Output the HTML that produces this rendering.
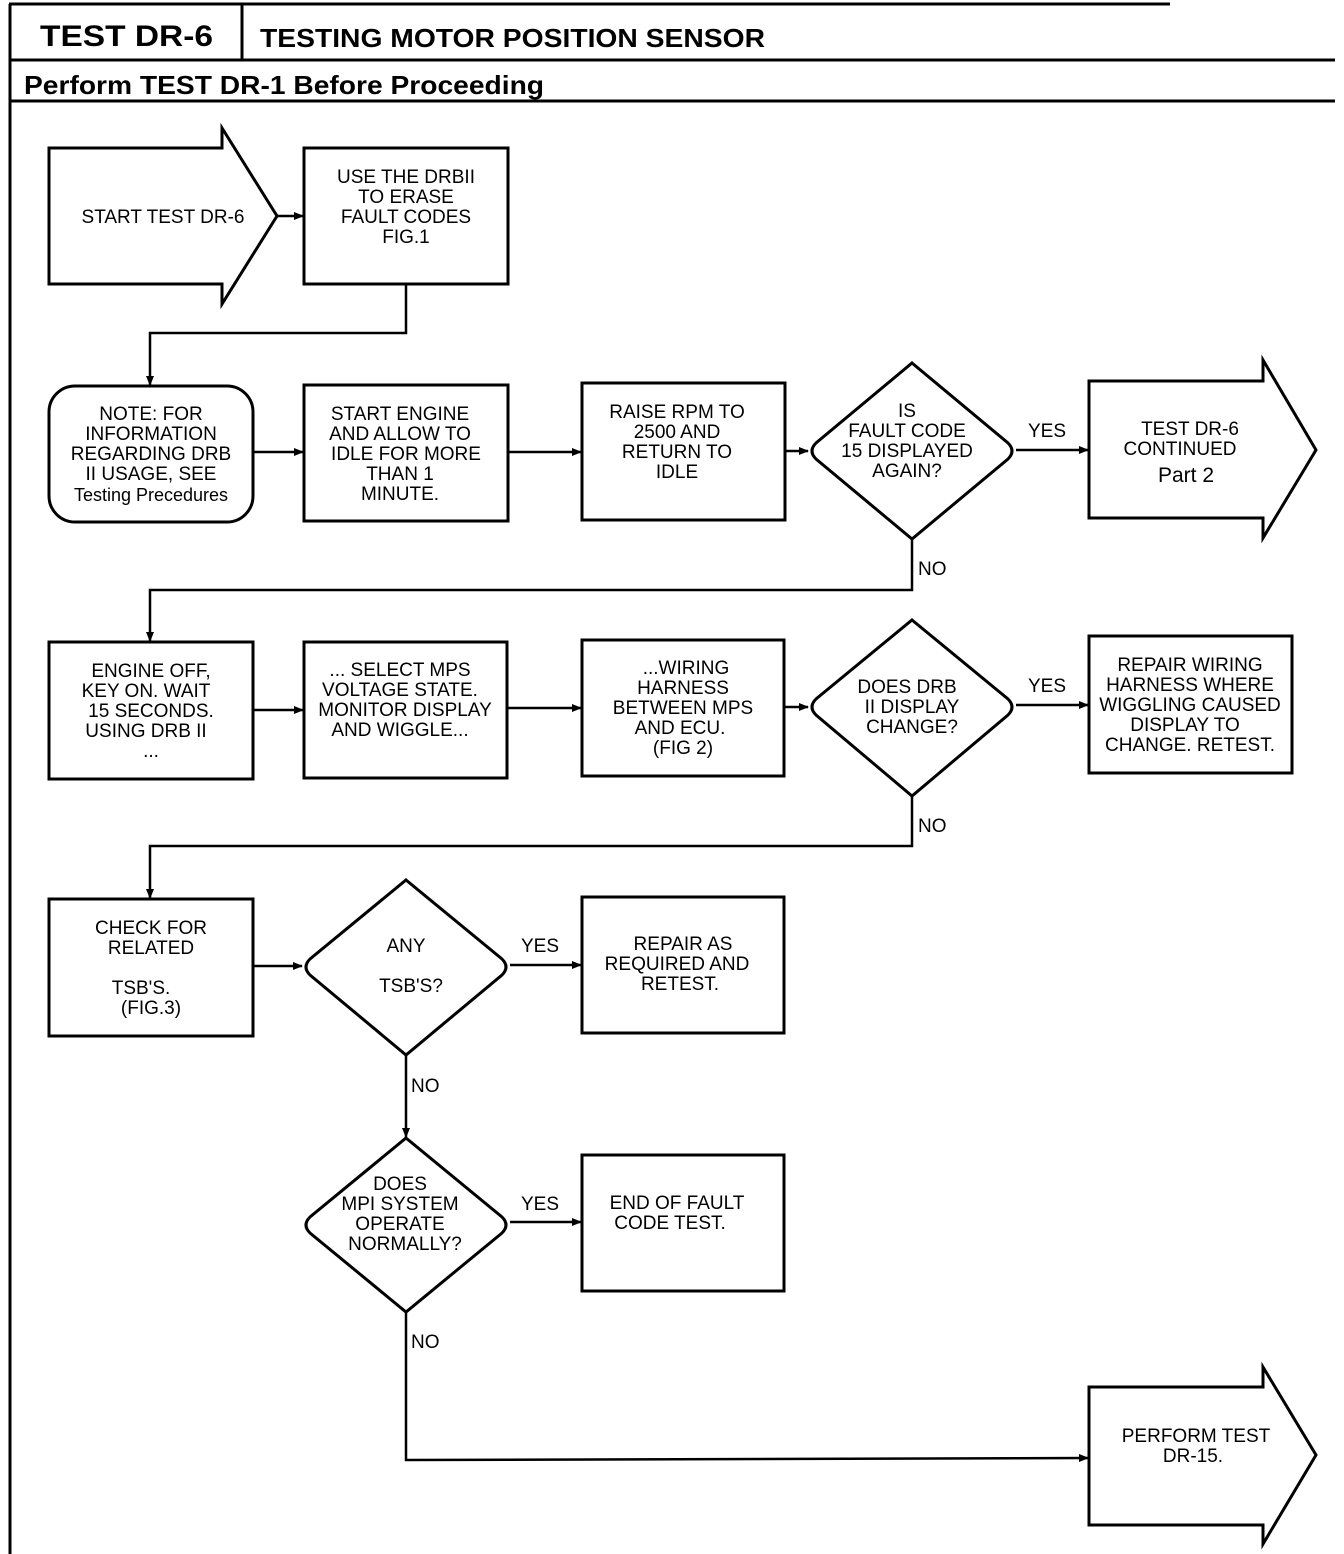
<!DOCTYPE html>
<html><head><meta charset="utf-8"><style>
html,body{margin:0;padding:0;background:#fff;}
svg{display:block;}
.t{font-family:"Liberation Sans",sans-serif;font-size:19px;fill:#000;text-anchor:middle;}
.h{font-family:"Liberation Sans",sans-serif;font-weight:bold;fill:#000;}
.l{font-family:"Liberation Sans",sans-serif;font-size:19px;fill:#000;}
</style></head><body>
<svg width="1344" height="1554" viewBox="0 0 1344 1554" xmlns="http://www.w3.org/2000/svg">
<defs><marker id="a" markerWidth="10" markerHeight="8" refX="9" refY="4" orient="auto" markerUnits="userSpaceOnUse"><path d="M0,0 L10,4 L0,8 Z" fill="#000"/></marker></defs>
<g stroke="#000" stroke-width="3" fill="none">
<line x1="9" y1="4" x2="1170" y2="4"/>
<line x1="10" y1="4" x2="10" y2="1554"/>
<line x1="242" y1="4" x2="242" y2="60"/>
<line x1="10" y1="60" x2="1335" y2="60"/>
<line x1="10" y1="101" x2="1335" y2="101"/>
<path d="M49,148 L222,148 L222,128 L277,216 L222,304 L222,284 L49,284 Z"/>
<rect x="304" y="148" width="204" height="136"/>
<rect x="49" y="386" width="204" height="136" rx="26"/>
<rect x="304" y="385" width="204" height="136"/>
<rect x="582" y="383" width="203" height="137"/>
<path d="M912,363 L1008,443 Q1016,451 1008,459 L912,539 L816,459 Q808,451 816,443 Z"/>
<path d="M1089,381 L1263,381 L1263,360 L1316,450 L1263,538 L1263,518 L1089,518 Z"/>
<rect x="49" y="642" width="204" height="137"/>
<rect x="304" y="642" width="203" height="136"/>
<rect x="582" y="640" width="202" height="136"/>
<path d="M912,620 L1008,699 Q1016,707 1008,715 L912,796 L816,715 Q808,707 816,699 Z"/>
<rect x="1089" y="636" width="203" height="137"/>
<rect x="49" y="899" width="204" height="137"/>
<path d="M406,880 L502,959 Q510,967 502,975 L406,1055 L310,975 Q302,967 310,959 Z"/>
<rect x="582" y="897" width="202" height="136"/>
<path d="M406,1138 L502,1217 Q510,1225 502,1233 L406,1312 L310,1233 Q302,1225 310,1217 Z"/>
<rect x="582" y="1155" width="202" height="136"/>
<path d="M1089,1387 L1263,1387 L1263,1367 L1316,1455 L1263,1544 L1263,1525 L1089,1525 Z"/>
</g>
<g stroke="#000" stroke-width="2.5" fill="none" marker-end="url(#a)">
<path d="M277,216 L303,216"/>
<path d="M406,284 L406,333 L150,333 L150,385"/>
<path d="M253,452 L303,452"/>
<path d="M508,452 L581,452"/>
<path d="M785,451 L808,451"/>
<path d="M1016,450 L1088,450"/>
<path d="M912,539 L912,590 L150,590 L150,641"/>
<path d="M253,710 L303,710"/>
<path d="M507,708 L581,708"/>
<path d="M784,707 L808,707"/>
<path d="M1016,705 L1088,705"/>
<path d="M912,796 L912,846 L150,846 L150,898"/>
<path d="M253,966 L302,966"/>
<path d="M510,965 L581,965"/>
<path d="M406,1055 L406,1137"/>
<path d="M510,1222 L581,1222"/>
<path d="M406,1312 L406,1460 L1088,1458"/>
</g>
<text class="h" x="40" y="46" font-size="30" textLength="173" lengthAdjust="spacingAndGlyphs">TEST DR-6</text>
<text class="h" x="260" y="47" font-size="26" textLength="505" lengthAdjust="spacingAndGlyphs">TESTING MOTOR POSITION SENSOR</text>
<text class="h" x="24" y="94" font-size="26" textLength="520" lengthAdjust="spacingAndGlyphs">Perform TEST DR-1 Before Proceeding</text>

<text class="t" x="163" y="223">START TEST DR-6</text>
<text class="t" x="406" y="183"><tspan x="406">USE THE DRBII</tspan><tspan x="406" dy="20">TO ERASE</tspan><tspan x="406" dy="20">FAULT CODES</tspan><tspan x="406" dy="20">FIG.1</tspan></text>

<text class="t" x="151" y="420"><tspan x="151">NOTE: FOR</tspan><tspan x="151" dy="20">INFORMATION</tspan><tspan x="151" dy="20">REGARDING DRB</tspan><tspan x="151" dy="20">II USAGE, SEE</tspan><tspan x="151" dy="21" font-size="18">Testing Precedures</tspan></text>
<text class="t" x="400" y="420"><tspan x="400">START ENGINE</tspan><tspan x="400" dy="20">AND ALLOW TO</tspan><tspan x="406" dy="20">IDLE FOR MORE</tspan><tspan x="400" dy="20">THAN 1</tspan><tspan x="400" dy="20">MINUTE.</tspan></text>
<text class="t" x="677" y="418"><tspan x="677">RAISE RPM TO</tspan><tspan x="677" dy="20">2500 AND</tspan><tspan x="677" dy="20">RETURN TO</tspan><tspan x="677" dy="20">IDLE</tspan></text>
<text class="t" x="907" y="417"><tspan x="907">IS</tspan><tspan x="907" dy="20">FAULT CODE</tspan><tspan x="907" dy="20">15 DISPLAYED</tspan><tspan x="907" dy="20">AGAIN?</tspan></text>
<text class="l" x="1028" y="437">YES</text>
<text class="t" x="1180" y="435"><tspan x="1190">TEST DR-6</tspan><tspan x="1180" dy="20">CONTINUED</tspan><tspan x="1186" dy="27" font-size="21">Part 2</tspan></text>
<text class="l" x="918" y="575">NO</text>

<text class="t" x="151" y="677"><tspan x="151">ENGINE OFF,</tspan><tspan x="146" dy="20">KEY ON. WAIT</tspan><tspan x="151" dy="20">15 SECONDS.</tspan><tspan x="146" dy="20">USING DRB II</tspan><tspan x="151" dy="20">...</tspan></text>
<text class="t" x="405" y="676"><tspan x="400">... SELECT MPS</tspan><tspan x="400" dy="20">VOLTAGE STATE.</tspan><tspan x="405" dy="20">MONITOR DISPLAY</tspan><tspan x="400" dy="20">AND WIGGLE...</tspan></text>
<text class="t" x="683" y="674"><tspan x="686">...WIRING</tspan><tspan x="683" dy="20">HARNESS</tspan><tspan x="683" dy="20">BETWEEN MPS</tspan><tspan x="680" dy="20">AND ECU.</tspan><tspan x="683" dy="20">(FIG 2)</tspan></text>
<text class="t" x="912" y="693"><tspan x="907">DOES DRB</tspan><tspan x="912" dy="20">II DISPLAY</tspan><tspan x="912" dy="20">CHANGE?</tspan></text>
<text class="l" x="1028" y="692">YES</text>
<text class="t" x="1190" y="671"><tspan x="1190">REPAIR WIRING</tspan><tspan x="1190" dy="20">HARNESS WHERE</tspan><tspan x="1190" dy="20">WIGGLING CAUSED</tspan><tspan x="1185" dy="20">DISPLAY TO</tspan><tspan x="1190" dy="20">CHANGE. RETEST.</tspan></text>
<text class="l" x="918" y="832">NO</text>

<text class="t" x="151" y="934"><tspan x="151">CHECK FOR</tspan><tspan x="151" dy="20">RELATED</tspan><tspan x="141" dy="40">TSB'S.</tspan><tspan x="151" dy="20">(FIG.3)</tspan></text>
<text class="t" x="406" y="952">ANY</text>
<text class="t" x="411" y="992">TSB'S?</text>
<text class="l" x="521" y="952">YES</text>
<text class="t" x="677" y="950"><tspan x="683">REPAIR AS</tspan><tspan x="677" dy="20">REQUIRED AND</tspan><tspan x="680" dy="20">RETEST.</tspan></text>
<text class="l" x="411" y="1092">NO</text>

<text class="t" x="400" y="1190"><tspan x="400">DOES</tspan><tspan x="400" dy="20">MPI SYSTEM</tspan><tspan x="400" dy="20">OPERATE</tspan><tspan x="405" dy="20">NORMALLY?</tspan></text>
<text class="l" x="521" y="1210">YES</text>
<text class="t" x="677" y="1209"><tspan x="677">END OF FAULT</tspan><tspan x="670" dy="20">CODE TEST.</tspan></text>
<text class="l" x="411" y="1348">NO</text>
<text class="t" x="1196" y="1442"><tspan x="1196">PERFORM TEST</tspan><tspan x="1193" dy="20">DR-15.</tspan></text>
</svg>
</body></html>
